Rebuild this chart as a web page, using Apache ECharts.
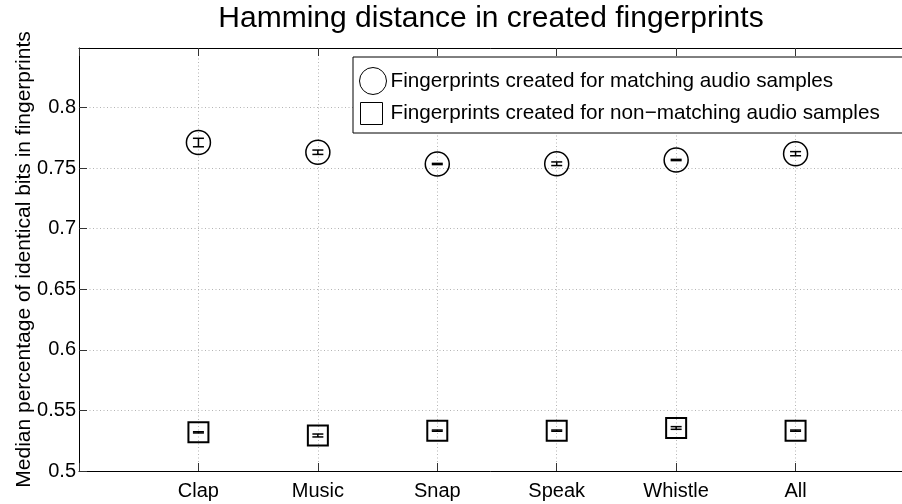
<!DOCTYPE html>
<html>
<head>
<meta charset="utf-8">
<script src="https://cdn.jsdelivr.net/npm/echarts@6/dist/echarts.min.js"></script>
<style>html,body{margin:0;padding:0;background:#fff;}#c{width:902px;height:504px;}</style>
</head>
<body>
<div id="c"></div>
<script>
var categories = ['Clap', 'Music', 'Snap', 'Speak', 'Whistle', 'All'];
var matchMedian = [0.7710, 0.7630, 0.7533, 0.7535, 0.7566, 0.7618];
var matchErr = [0.0035, 0.0018, 0.0005, 0.0015, 0.0005, 0.0017];
var nonMatchMedian = [0.5319, 0.5293, 0.5333, 0.5333, 0.5355, 0.5333];
var nonMatchErr = [0.0005, 0.0012, 0.0005, 0.0005, 0.0011, 0.0005];
var yTicks = [0.5, 0.55, 0.6, 0.65, 0.7, 0.75, 0.8];
var seriesNames = ['Fingerprints created for matching audio samples', 'Fingerprints created for non\u2212matching audio samples'];

var FONT = 'Liberation Sans, Arial, Helvetica, sans-serif';

function pts(med) { return med.map(function (v, i) { return [i + 1, v]; }); }
function errs(med, e) { return med.map(function (v, i) { return [i + 1, v - e[i], v + e[i]]; }); }

function renderErr(params, api) {
  var x = api.value(0), lo = api.value(1), hi = api.value(2);
  var pLo = api.coord([x, lo]), pHi = api.coord([x, hi]);
  var hw = 5.5;
  var st = { stroke: '#000', lineWidth: 1.5 };
  return {
    type: 'group',
    children: [
      { type: 'line', shape: { x1: pLo[0], y1: pLo[1], x2: pHi[0], y2: pHi[1] }, style: st },
      { type: 'line', shape: { x1: pLo[0] - hw, y1: pLo[1], x2: pLo[0] + hw, y2: pLo[1] }, style: st },
      { type: 'line', shape: { x1: pHi[0] - hw, y1: pHi[1], x2: pHi[0] + hw, y2: pHi[1] }, style: st }
    ]
  };
}

var chart = echarts.init(document.getElementById('c'));
var gridLine = { show: true, lineStyle: { color: '#b4b4b4', width: 1, type: [1, 2.5] } };
chart.setOption({
  animation: false,
  backgroundColor: '#fff',
  textStyle: { fontFamily: FONT },
  title: {
    text: 'Hamming distance in created fingerprints',
    left: 491, top: 4, textAlign: 'center', padding: 0,
    textStyle: { fontFamily: FONT, fontSize: 30, fontWeight: 'normal', color: '#000' }
  },
  grid: { left: 79, top: 48, width: 836, height: 423, outerBoundsMode: 'none', containLabel: false },
  xAxis: [{
    type: 'value', min: 0, max: 7, interval: 1,
    axisLine: { show: true, onZero: false, lineStyle: { color: '#000', width: 1 } },
    axisTick: { show: true, inside: true, length: 8, lineStyle: { color: '#333' } },
    axisLabel: {
      show: true, margin: 10, color: '#000', fontSize: 20, fontFamily: FONT,
      formatter: function (v) { var i = Math.round(v) - 1; return (i >= 0 && i < categories.length && Math.abs(v - Math.round(v)) < 1e-6) ? categories[i] : ''; }
    },
    splitLine: gridLine
  }, {
    type: 'value', position: 'top', min: 0, max: 7, interval: 1,
    axisLine: { show: true, onZero: false, lineStyle: { color: '#000', width: 1 } },
    axisTick: { show: true, inside: true, length: 8, lineStyle: { color: '#333' } },
    axisLabel: { show: false },
    splitLine: { show: false }
  }],
  yAxis: {
    type: 'value', min: 0.5, max: 0.849, interval: 0.05,
    name: 'Median percentage of identical bits in fingerprints',
    nameLocation: 'middle', nameGap: 44, nameRotate: 90, nameMoveOverlap: false,
    nameTextStyle: { color: '#000', fontSize: 21, fontFamily: FONT },
    axisLine: { show: true, onZero: false, lineStyle: { color: '#000', width: 1 } },
    axisTick: { show: true, inside: true, length: 8, lineStyle: { color: '#333' } },
    axisLabel: {
      show: true, margin: 3, color: '#000', fontSize: 20, fontFamily: FONT, showMaxLabel: false,
      formatter: function (v) {
        for (var k = 0; k < yTicks.length; k++) { if (Math.abs(v - yTicks[k]) < 1e-6) return String(yTicks[k]); }
        return '';
      }
    },
    splitLine: gridLine
  },
  graphic: [{
    type: 'rect', z: 10,
    shape: { x: 353, y: 57, width: 600, height: 76 },
    style: { fill: '#fff', stroke: '#000', lineWidth: 1 }
  }],
  legend: [{
    z: 20, data: [seriesNames[0]], left: 359, top: 67, padding: 0,
    itemWidth: 27, itemHeight: 27, icon: 'circle',
    itemStyle: { color: 'rgba(0,0,0,0)', borderColor: '#000', borderWidth: 1 },
    textStyle: { color: '#000', fontSize: 20.7, fontFamily: FONT, padding: [0, 0, 0, -1] },
    selectedMode: false
  }, {
    z: 20, data: [seriesNames[1]], left: 360, top: 102, padding: 0,
    itemWidth: 22, itemHeight: 22, icon: 'rect',
    itemStyle: { color: 'rgba(0,0,0,0)', borderColor: '#000', borderWidth: 1 },
    textStyle: { color: '#000', fontSize: 20.7, fontFamily: FONT, padding: [0, 0, 0, 3] },
    selectedMode: false
  }],
  series: [{
    name: seriesNames[0], type: 'scatter', data: pts(matchMedian),
    symbol: 'circle', symbolSize: 24, z: 3,
    itemStyle: { color: 'rgba(0,0,0,0)', borderColor: '#000', borderWidth: 1.5, opacity: 1 }
  }, {
    name: seriesNames[1], type: 'scatter', data: pts(nonMatchMedian),
    symbol: 'rect', symbolSize: 20, z: 3,
    itemStyle: { color: 'rgba(0,0,0,0)', borderColor: '#000', borderWidth: 2, opacity: 1 }
  }, {
    type: 'custom', data: errs(matchMedian, matchErr), renderItem: renderErr, z: 4,
    encode: { x: 0, y: [1, 2] }
  }, {
    type: 'custom', data: errs(nonMatchMedian, nonMatchErr), renderItem: renderErr, z: 4,
    encode: { x: 0, y: [1, 2] }
  }]
});
</script>
</body>
</html>
